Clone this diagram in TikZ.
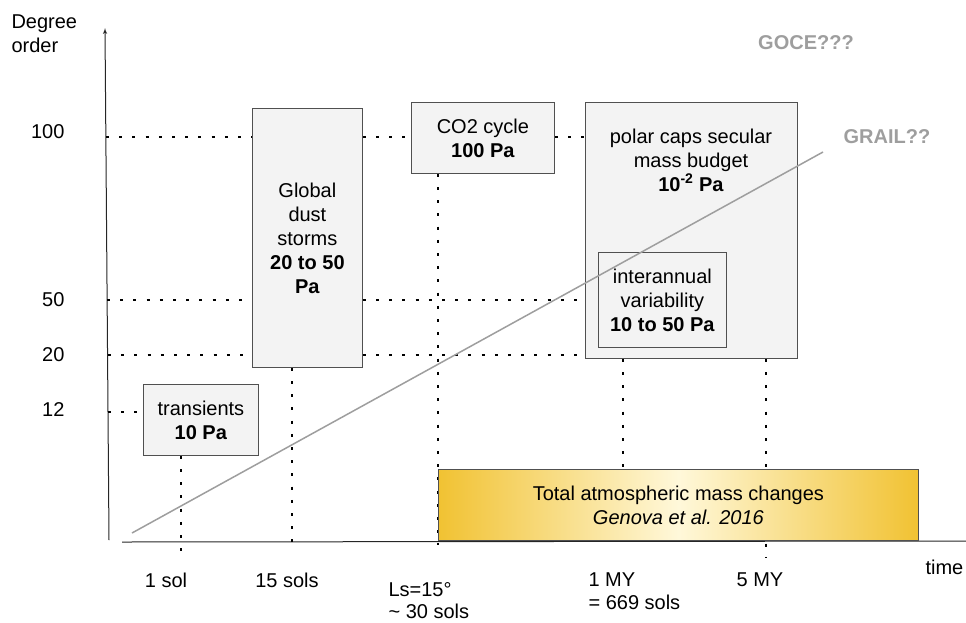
\documentclass[tikz,border=0pt]{standalone}
\usepackage{fontspec}
\setmainfont{Liberation Sans}
\usepackage{tikz}
\usetikzlibrary{positioning,arrows}
\definecolor{boxgray}{HTML}{F3F3F3}
\definecolor{edgegray}{HTML}{505050}
\definecolor{linegray}{HTML}{9E9E9E}
\definecolor{gold}{HTML}{F1C232}
\definecolor{cream}{HTML}{FFF8DA}
\tikzset{
    x=1pt,
    y=-1pt,
    every node/.style = {
        font=\fontsize{20}{24}\selectfont
    },
    box/.style = {
        draw=edgegray,
        fill=boxgray,
        shape=rectangle,
        anchor=north west,
        align=center,
        inner sep=2pt,
        line width=0.8pt
    },
    yellowbox/.style = {
        box,
        left color=gold,
        right color=gold,
        middle color=cream
    },
    guide/.style = {
        line width=2.9pt,
        dash pattern=on 2.9pt off 10.3pt
    },
    axis/.style = {
        line width=1pt,
        color=black!85
    },
    mission/.style = {
        font=\fontsize{20}{24}\selectfont\bfseries,
        text=linegray
    },
    >=latex',
}

\begin{document}
\begin{tikzpicture}
    \useasboundingbox (0,0) rectangle (966,622);

    % axes
    \coordinate (ybot) at (109,540);
    \coordinate (ytop) at (105,28);
    \coordinate (xleft) at (122,542);
    \coordinate (xright) at (966,541);
    \path[draw, axis, ->] (ybot) -- (ytop);
    \path[draw, axis] (xleft) -- (xright);

    \node[anchor=north west, align=left] (ylabel) at (8,11) {Degree\\order};
    \node[anchor=east] (d100) at (68,132) {100};
    \node[anchor=east] (d50) at (68,300) {50};
    \node[anchor=east] (d20) at (68,355) {20};
    \node[anchor=east] (d12) at (68,410) {12};

    \coordinate (y100) at (106,137);
    \coordinate (y50) at (107,300);
    \coordinate (y20) at (108,355);
    \coordinate (y12) at (108,412);

    % boxes
    \node[box, minimum width=115pt, minimum height=71pt] (trans) at (143,384) {transients\\\textbf{10 Pa}};
    \node[box, minimum width=110pt, minimum height=259pt] (dust) at (252,108) {Global\\dust\\storms\\\textbf{20 to 50}\\\textbf{Pa}};
    \node[box, minimum width=143pt, minimum height=71pt] (co2) at (411,102) {CO2 cycle\\\textbf{100 Pa}};
    \node[box, minimum width=212pt, minimum height=256pt] (polar) at (585,102) {};
    \node[align=center] (polartxt) at (691,160) {polar caps secular\\mass budget\\\textbf{10\textsuperscript{-2} Pa}};
    \node[box, minimum width=128pt, minimum height=95pt] (inter) at (598,252) {interannual\\variability\\\textbf{10 to 50 Pa}};

    % time ticks
    \coordinate (t1) at (181,558);
    \coordinate (t2) at (292,542);
    \coordinate (t3) at (438,545);
    \coordinate (t4) at (623,469);
    \coordinate (t5) at (766,558);

    % dotted guides
    \path[draw, guide] (y100) -- (y100 -| dust.west);
    \path[draw, guide] (y100 -| dust.east) -- (y100 -| co2.west);
    \path[draw, guide] (y100 -| co2.east) -- (y100 -| polar.west);
    \path[draw, guide] (y50) -- (y50 -| dust.west);
    \path[draw, guide] (y50 -| dust.east) -- (y50 -| polar.west);
    \path[draw, guide] (y20) -- (y20 -| dust.west);
    \path[draw, guide] (y20 -| dust.east) -- (y20 -| polar.west);
    \path[draw, guide] (y12) -- (y12 -| trans.west);
    \path[draw, guide] (t1 |- trans.south) -- (t1);
    \path[draw, guide] (t2 |- dust.south) -- (t2);
    \path[draw, guide] (t3 |- co2.south) -- (t3);
    \path[draw, guide] (t4 |- polar.south) -- (t4);
    \path[draw, guide] (t5 |- polar.south) -- (t5);

    \node[yellowbox, minimum width=480pt, minimum height=71pt] (total) at (438,469) {Total atmospheric mass changes\\\textit{Genova et al. 2016}};

    % missions
    \coordinate (gstart) at (132,533);
    \coordinate (gend) at (823,152);
    \path[draw, linegray, line width=1.5pt] (gstart) -- (gend);
    \node[mission] (goce) at (806,43) {GOCE???};
    \node[mission] (grail) at (887,137) {GRAIL??};

    % time labels
    \node (l1) at (166,580) {1 sol};
    \node (l2) at (287,580) {15 sols};
    \node[anchor=west, align=left, font=\fontsize{20}{22}\selectfont] (l3) at (385,601) {Ls=15°\\\textasciitilde\ 30 sols};
    \node[anchor=west, align=left, font=\fontsize{20}{23}\selectfont] (l4) at (585,591) {1 MY\\= 669 sols};
    \node (l5) at (760,580) {5 MY};
    \node[anchor=west] (ltime) at (922,567) {time};
\end{tikzpicture}
\end{document}
